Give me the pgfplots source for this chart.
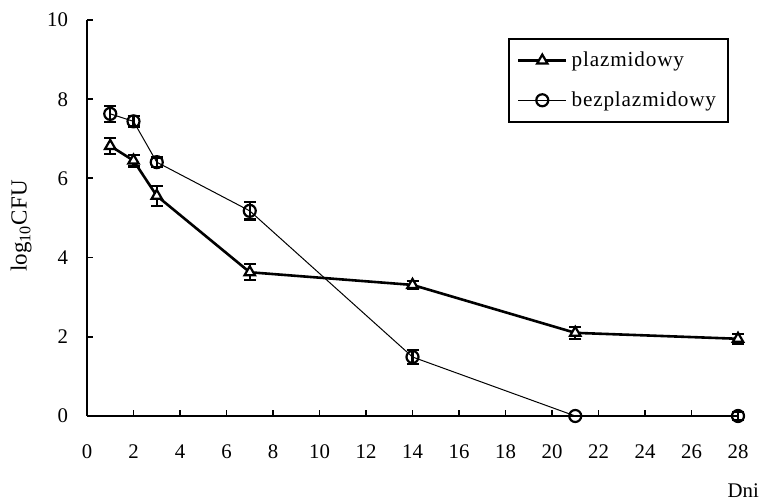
\documentclass[border=0pt]{standalone}
\usepackage{fontspec}
\setmainfont{Liberation Serif}
\usepackage{pgfplots}
\pgfplotsset{compat=1.18}
\usepackage{pgfplotstable}

% survival of the two strains: day, log10 CFU, standard error
\pgfplotstableread{
day  y     err
1    6.82  0.20
2    6.45  0.15
3    5.56  0.25
7    3.63  0.20
14   3.31  0.10
21   2.10  0.15
28   1.95  0.12
}\plazmid
\pgfplotstableread{
day  y     err
1    7.63  0.20
2    7.44  0.13
3    6.41  0.12
7    5.18  0.22
14   1.49  0.17
21   0.00  0.00
28   0.00  0.10
}\bezplazmid

\begin{document}
\begin{tikzpicture}
\useasboundingbox (-43.5pt,-42.5pt) rectangle (338pt,208pt);
\begin{axis}[
  at={(0,0)}, anchor=south west,
  scale only axis,
  width=325.5pt, height=198pt,
  xmin=0, xmax=28, ymin=0, ymax=10,
  axis x line*=bottom, axis y line*=left,
  axis line style={line width=1pt},
  xtick={0,2,...,28}, ytick={0,2,...,10},
  tick align=inside,
  major tick length=3pt,
  tick style={line width=0.9pt, black},
  /pgf/number format/assume math mode=true,
  font=\fontsize{10.4}{12}\selectfont,
  xticklabel style={yshift=-11pt},
  yticklabel style={xshift=-6pt},
  xlabel={Dni},
  xlabel style={at={(axis description cs:1.008,-0.189)}, anchor=center},
  ylabel={log\textsubscript{10}CFU},
  ylabel style={at={(axis description cs:-0.101,0.48)}, anchor=center,
    font=\fontsize{11.5}{13}\selectfont},
  clip=false,
  legend style={
    at={(axis description cs:0.986,0.955)}, anchor=north east,
    draw=black, line width=0.9pt,
    font=\fontsize{10.6}{12}\selectfont\addfontfeature{LetterSpace=4},
    inner xsep=4pt, inner ysep=4.5pt,
    row sep=7pt,
    legend cell align=left,
  },
  legend image code/.code={%
    \draw[mark repeat=2, mark phase=2, #1]
      plot coordinates {(0pt,0pt) (12pt,0pt) (24pt,0pt)};},
]
\addplot[black, line width=1.3pt,
  mark=triangle*, mark size=3pt,
  mark options={fill=white, line width=1.1pt, solid},
  error bars/.cd, y dir=both, y explicit,
  error bar style={line width=1.1pt},
  error mark options={rotate=90, mark size=3pt, line width=1.1pt}]
  table[x=day, y=y, y error=err] {\plazmid};
\addlegendentry{plazmidowy}
\addplot[black, line width=0.5pt,
  mark=o, mark size=3pt,
  mark options={fill=white, line width=1.1pt, solid},
  error bars/.cd, y dir=both, y explicit,
  error bar style={line width=1.1pt},
  error mark options={rotate=90, mark size=3pt, line width=1.1pt}]
  table[x=day, y=y, y error=err] {\bezplazmid};
\addlegendentry{bezplazmidowy}
\end{axis}
\end{tikzpicture}
\end{document}
